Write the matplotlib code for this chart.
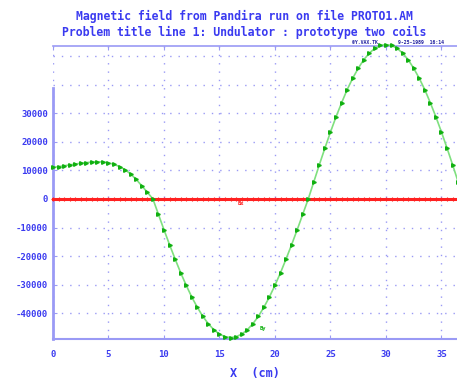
import numpy as np
import matplotlib
matplotlib.use('Agg')
import matplotlib.pyplot as plt

# positions (cm) et champ
x_cm = np.arange(0, 37.0, 0.5)
by = [11000, 11300, 11600, 11900, 12200, 12500, 12700, 12900, 13000, 12900,
      12600, 12100, 11300, 10200, 8700, 6800, 4600, 2300, 0, -5400,
      -10800, -16000, -21000, -25800, -30200, -34300, -37900, -41100, -43700, -45800,
      -47300, -48200, -48500, -48200, -47300, -45800, -43700, -41100, -37900, -34300,
      -30200, -25800, -21000, -16000, -10800, -5400, 0, 6000, 12000, 17800,
      23400, 28700, 33600, 38200, 42200, 45700, 48700, 51000, 52700, 53700,
      54000, 53700, 52700, 51000, 48700, 45700, 42200, 38200, 33600, 28700,
      23400, 17800, 12000, 6000]
bx = [0] * len(by)

xticks = [0, 5, 10, 15, 20, 25, 30, 35]
yticks = [-40000, -30000, -20000, -10000, 0, 10000, 20000, 30000, 40000, 50000]
ylabels = ['-40000', '-30000', '-20000', '-10000', '0', '10000', '20000', '30000', '', '']

blue = '#3a3af0'
pale = '#9a9af5'
mono = 'DejaVu Sans Mono'

fig = plt.figure(figsize=(4.57, 3.80), dpi=100)
ax = fig.add_axes([53 / 457, 1 - 339 / 380, 1 - 53 / 457, (339 - 46) / 380])

ax.plot(x_cm, bx, color='#ff2020', lw=2.2, marker='+', ms=3, mew=0.8, clip_on=False, zorder=3)
ax.plot(x_cm, by, color='#7fe07f', lw=1.2, marker='>', ms=2.6, mfc='#10b010', mec='#10b010',
        clip_on=False, zorder=4)

ax.text(16.6, -2200, 'Bx', color='#ff2020', fontsize=4, family=mono, fontweight='bold')
ax.text(18.6, -45800, 'By', color='#10b010', fontsize=4, family=mono, fontweight='bold')

ax.set_xlim(0, 36.4)
ax.set_ylim(-49000, 53500)
ax.set_xticks(xticks)
ax.set_yticks(yticks)
ax.set_yticklabels(ylabels)

ax.grid(True, color=pale, linestyle=(0, (1, 5)), lw=1.0)
ax.tick_params(axis='both', direction='in', colors=pale, labelcolor=blue, labelsize=6.5, length=3)
ax.tick_params(axis='x', top=True, pad=8)
for t in ax.yaxis.get_major_ticks()[-2:]:
    t.tick1line.set_visible(False)
for lab in ax.get_xticklabels() + ax.get_yticklabels():
    lab.set_family(mono)
    lab.set_fontweight('bold')

ax.spines['right'].set_visible(False)
ax.spines['left'].set_bounds(-49000, 38800)
ax.spines['left'].set_color(pale)
ax.spines['left'].set_linewidth(2)
ax.spines['bottom'].set_color(pale)
ax.spines['bottom'].set_linewidth(1.5)
ax.spines['top'].set_color(pale)
ax.spines['top'].set_linewidth(1.2)

ax.set_xlabel('X  (cm)', color=blue, family=mono, fontweight='bold', fontsize=8.5, labelpad=6)

fig.text(0.535, 1 - 16 / 380, 'Magnetic field from Pandira run on file PROTO1.AM',
         ha='center', va='center', color=blue, family=mono, fontsize=8.3, fontweight='bold')
fig.text(0.535, 1 - 32 / 380, 'Problem title line 1: Undulator : prototype two coils',
         ha='center', va='center', color=blue, family=mono, fontsize=8.3, fontweight='bold')
fig.text(352 / 457, 1 - 42 / 380, '©Y.VAX.TK', color='#2020a0', family=mono, fontsize=3.5,
         fontweight='bold', va='center')
fig.text(398 / 457, 1 - 42 / 380, '9-25-1989  16:14', color='#2020a0', family=mono, fontsize=3.5,
         fontweight='bold', va='center')

fig.savefig('out.png', dpi=100)
